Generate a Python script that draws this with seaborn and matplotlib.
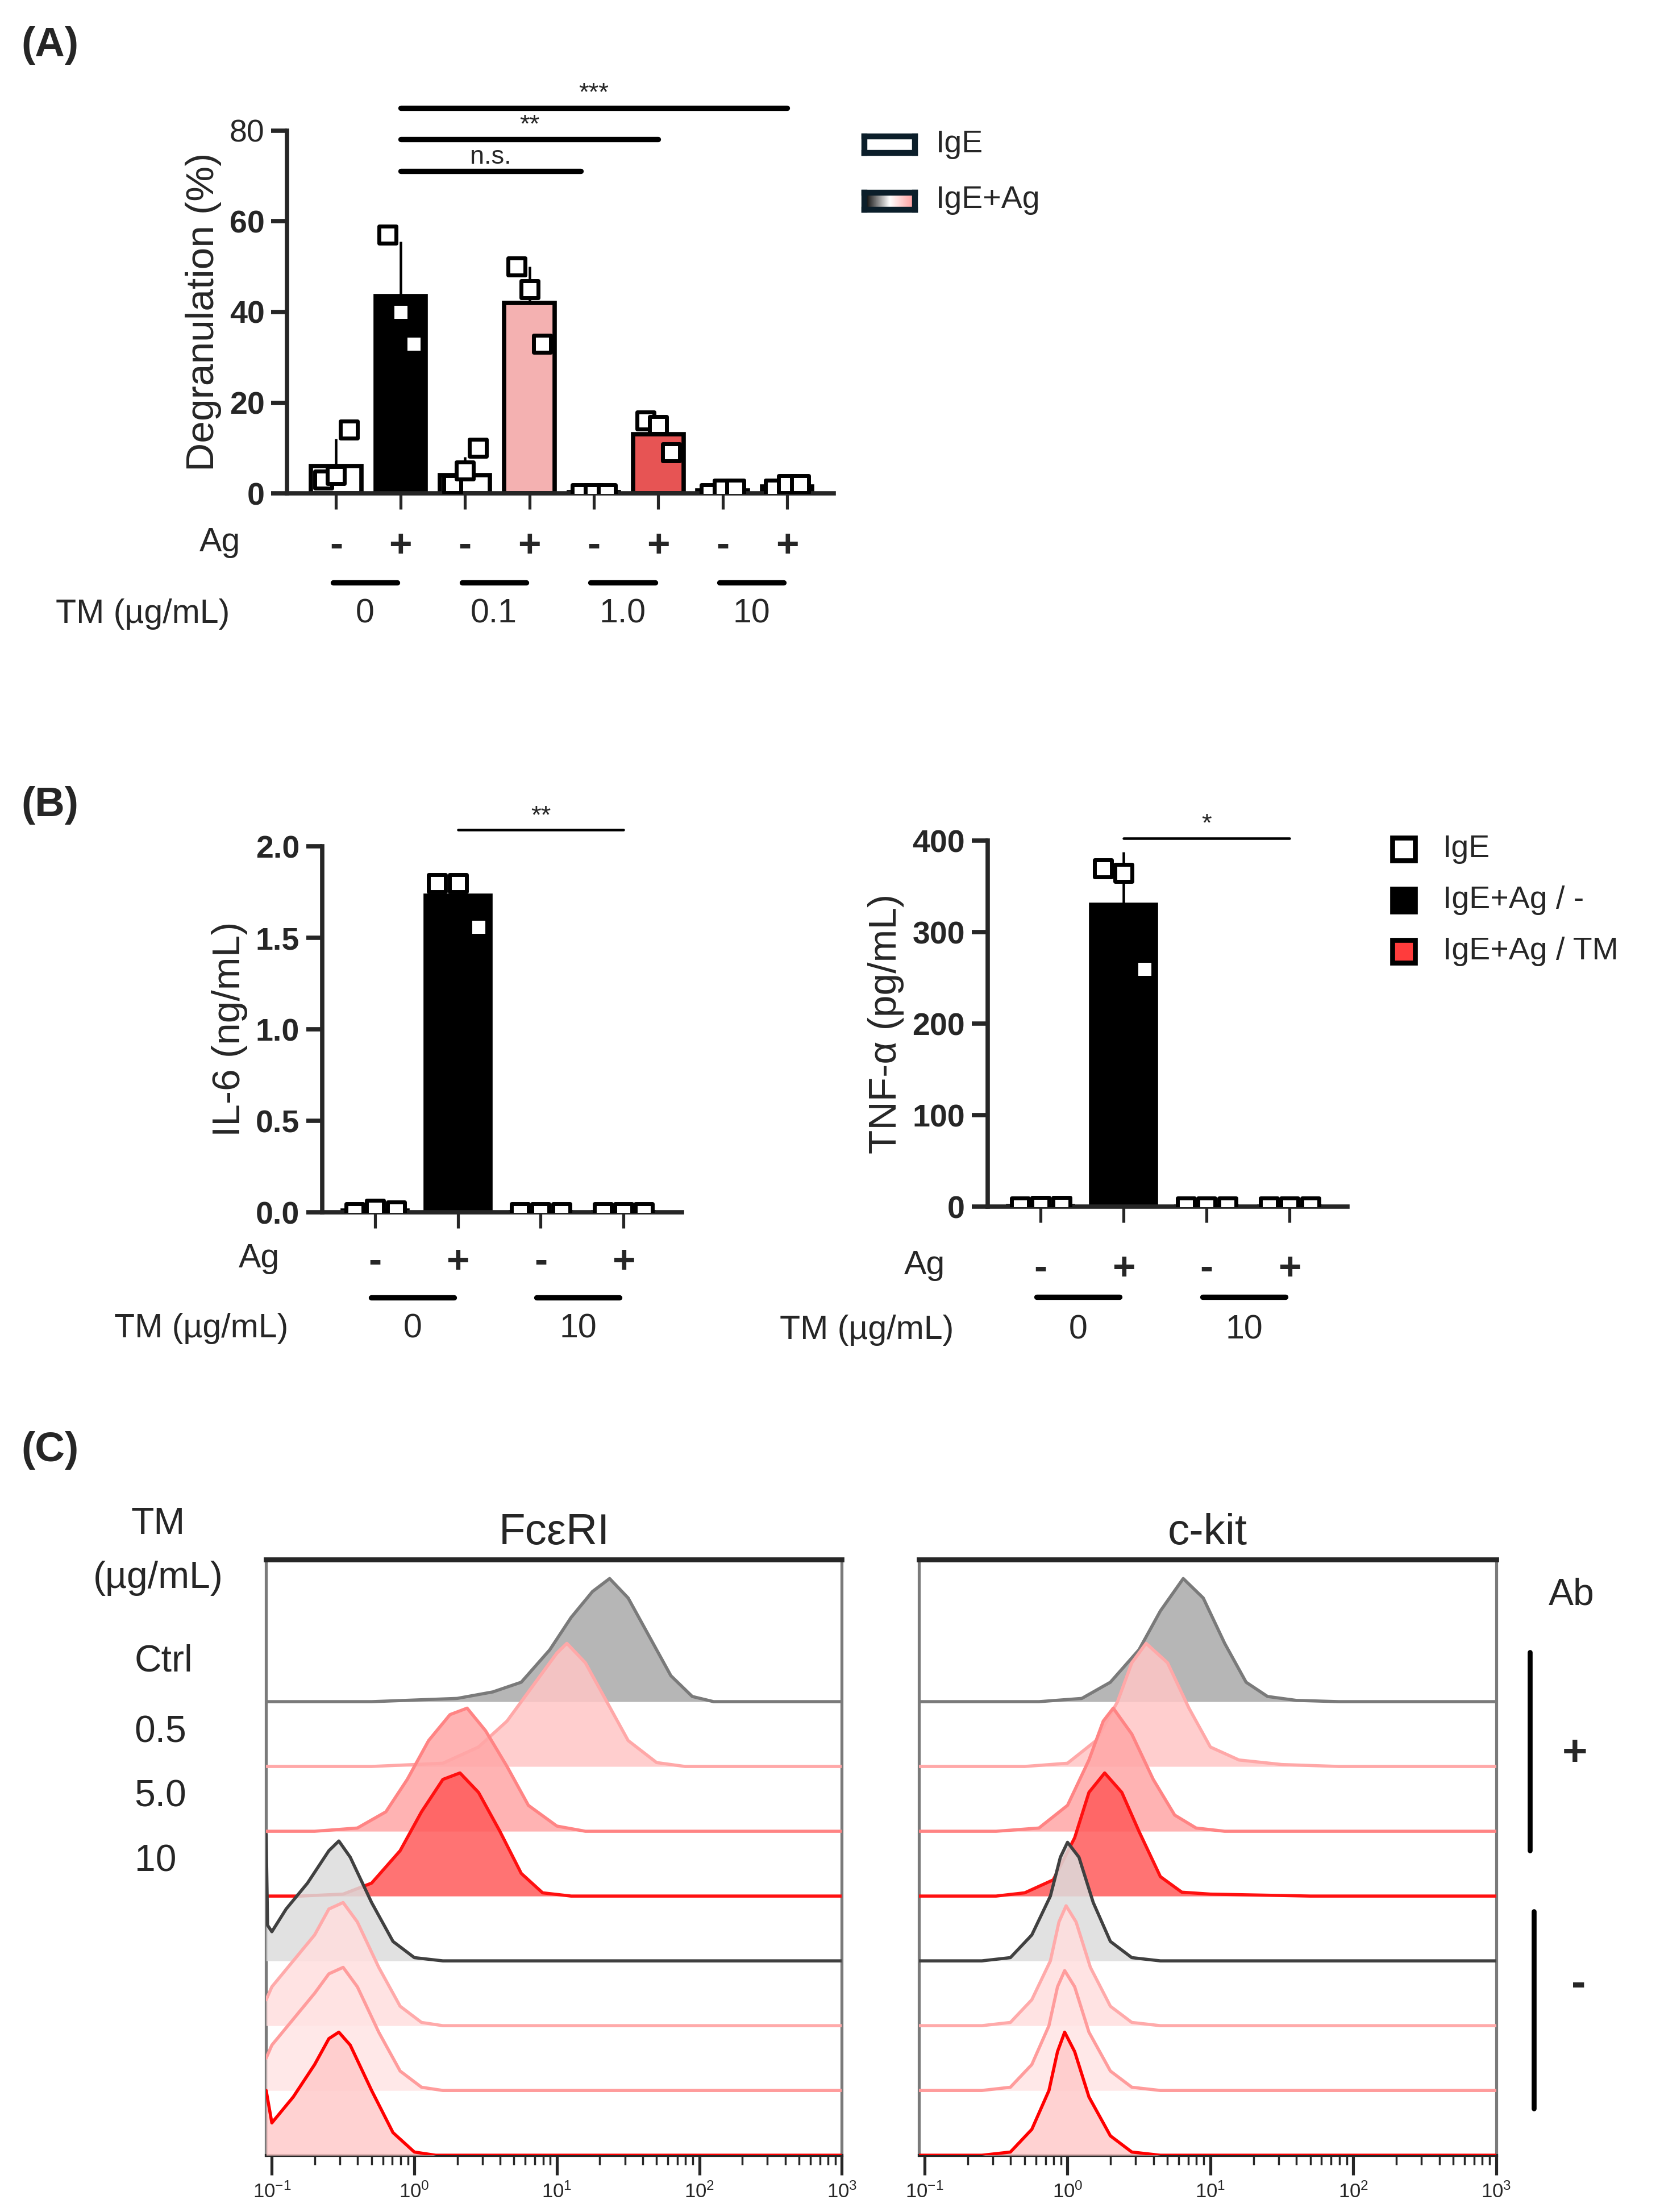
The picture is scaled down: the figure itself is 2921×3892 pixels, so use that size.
import numpy as np
import pandas as pd
import seaborn as sns
import matplotlib.pyplot as plt
import matplotlib.transforms as mtransforms
from matplotlib.colors import LinearSegmentedColormap
from matplotlib.patches import Patch

# ---- panel A data ----
a_groups = ["IgE 0", "IgE+Ag 0", "IgE 0.1", "IgE+Ag 0.1", "IgE 1.0", "IgE+Ag 1.0", "IgE 10", "IgE+Ag 10"]
a_means = [6, 43.5, 4, 42, 0.3, 13, 0.7, 1.5]
a_sd = [6, 12, 4, 8, 0.3, 3, 0.6, 0.6]
a_points = [[3, 4, 14], [57, 40, 33], [2, 5, 10], [50, 45, 33], [0, 0, 0], [16, 15, 9], [0, 1, 1], [1, 2, 2]]
a_colors = ["white", "black", "white", "#ffa6a6", "white", "#ff3c3c", "white", "white"]
ag_signs = ["-", "+", "-", "+", "-", "+", "-", "+"]
a_tm = ["0", "0.1", "1.0", "10"]
a_sig = [(1, 3.8, 71, "n.s."), (1, 5.0, 78, "**"), (1, 7.0, 85, "***")]

# ---- panel B data ----
b_groups = ["IgE", "IgE+Ag / -", "IgE / TM", "IgE+Ag / TM"]
il6_means = [0.01, 1.73, 0.0, 0.0]
il6_sd = [0.01, 0.07, 0.0, 0.0]
il6_points = [[0.0, 0.02, 0.01], [1.8, 1.8, 1.56], [0, 0, 0], [0, 0, 0]]
tnf_means = [1, 330, 0, 0]
tnf_sd = [1, 58, 0, 0]
tnf_points = [[0, 1, 1], [370, 365, 260], [0, 0, 0], [0, 0, 0]]
b_colors = ["white", "black", "white", "white"]
b_tm = ["0", "10"]

# ---- panel C data (log10 intensity, height in track units) ----
c_rows = ["Ctrl +", "0.5 +", "5.0 +", "10 +", "Ctrl -", "0.5 -", "5.0 -", "10 -"]
c_fill = ["#a9a9a9", "#ffc6c6", "#ffa6a6", "#ff5a5a", "#dcdcdc", "#ffdede", "#ffe4e4", "#ffcaca"]
c_line = ["#7a7a7a", "#ffa8a8", "#ff8484", "#ff1010", "#404040", "#ffaaaa", "#ff9c9c", "#ff0000"]
fce_x = [
    [-0.3, 0.3, 0.55, 0.75, 0.95, 1.1, 1.25, 1.37, 1.5, 1.65, 1.8, 1.95, 2.1],
    [-0.3, 0.2, 0.45, 0.65, 0.85, 1.0, 1.07, 1.2, 1.35, 1.5, 1.7, 1.9],
    [-0.7, -0.4, -0.2, -0.05, 0.1, 0.25, 0.37, 0.5, 0.65, 0.8, 1.0, 1.2],
    [-0.8, -0.5, -0.3, -0.1, 0.05, 0.2, 0.32, 0.45, 0.6, 0.75, 0.9, 1.1],
    [-1.04, -1.03, -1.0, -0.9, -0.75, -0.6, -0.53, -0.45, -0.3, -0.15, 0.0, 0.2],
    [-1.04, -1.0, -0.85, -0.7, -0.6, -0.5, -0.4, -0.25, -0.1, 0.05, 0.2],
    [-1.04, -1.0, -0.85, -0.7, -0.6, -0.5, -0.4, -0.25, -0.1, 0.05, 0.2],
    [-1.04, -1.0, -0.85, -0.7, -0.6, -0.53, -0.45, -0.3, -0.15, 0.0, 0.15],
]
fce_y = [
    [0, 0.05, 0.15, 0.3, 0.8, 1.3, 1.7, 1.9, 1.6, 1.0, 0.4, 0.08, 0],
    [0, 0.05, 0.3, 0.7, 1.3, 1.75, 1.9, 1.6, 1.0, 0.4, 0.06, 0],
    [0, 0.05, 0.3, 0.8, 1.4, 1.8, 1.9, 1.55, 1.0, 0.4, 0.08, 0],
    [0, 0.03, 0.2, 0.7, 1.3, 1.8, 1.9, 1.6, 1.0, 0.35, 0.05, 0],
    [1.95, 0.55, 0.45, 0.8, 1.2, 1.7, 1.85, 1.6, 0.9, 0.3, 0.05, 0],
    [0.4, 0.6, 1.0, 1.4, 1.8, 1.9, 1.6, 0.9, 0.3, 0.05, 0],
    [0.5, 0.7, 1.1, 1.5, 1.8, 1.9, 1.6, 0.9, 0.3, 0.05, 0],
    [1.0, 0.5, 0.9, 1.4, 1.8, 1.9, 1.7, 1.0, 0.35, 0.05, 0],
]
kit_x = [
    [-0.2, 0.1, 0.3, 0.5, 0.65, 0.81, 0.95, 1.1, 1.25, 1.4, 1.6, 1.9],
    [-0.3, 0.0, 0.2, 0.35, 0.45, 0.55, 0.7, 0.85, 1.0, 1.2, 1.5, 1.9],
    [-0.5, -0.2, 0.0, 0.15, 0.25, 0.32, 0.45, 0.6, 0.75, 0.9, 1.1],
    [-0.5, -0.3, -0.1, 0.05, 0.15, 0.26, 0.38, 0.5, 0.65, 0.8, 1.0, 1.7],
    [-0.6, -0.4, -0.25, -0.12, -0.05, 0.0, 0.08, 0.18, 0.3, 0.45, 0.65],
    [-0.6, -0.4, -0.25, -0.12, -0.06, -0.01, 0.06, 0.16, 0.3, 0.45, 0.65],
    [-0.6, -0.4, -0.25, -0.13, -0.07, -0.02, 0.05, 0.15, 0.3, 0.45, 0.65],
    [-0.6, -0.4, -0.25, -0.13, -0.07, -0.02, 0.05, 0.15, 0.3, 0.45, 0.65],
]
kit_y = [
    [0, 0.05, 0.3, 0.8, 1.4, 1.9, 1.6, 0.9, 0.3, 0.08, 0.02, 0],
    [0, 0.05, 0.4, 1.0, 1.6, 1.9, 1.6, 0.9, 0.3, 0.1, 0.03, 0],
    [0, 0.05, 0.4, 1.1, 1.7, 1.9, 1.5, 0.8, 0.25, 0.05, 0],
    [0, 0.05, 0.25, 0.9, 1.6, 1.9, 1.6, 1.0, 0.3, 0.06, 0.03, 0],
    [0, 0.05, 0.4, 1.0, 1.6, 1.83, 1.6, 0.9, 0.3, 0.05, 0],
    [0, 0.05, 0.4, 1.0, 1.6, 1.85, 1.6, 0.9, 0.3, 0.05, 0],
    [0, 0.05, 0.4, 1.0, 1.6, 1.85, 1.6, 0.9, 0.3, 0.05, 0],
    [0, 0.05, 0.4, 1.0, 1.6, 1.9, 1.6, 0.9, 0.3, 0.05, 0],
]
c_left_labels = ["Ctrl", "0.5", "5.0", "10"]

sns.set_style("ticks")
plt.rcParams["font.family"] = ["Liberation Sans", "DejaVu Sans"]
LW = 2.2

fig = plt.figure(figsize=(11.684, 15.568), dpi=250)
W, H = 1185.0, 1560.0


def fx(x):
    return x / W


def fy(y):
    return 1 - y / H


def bar_panel(ax, means, sd, points, colors, offsets):
    n = len(means)
    sns.barplot(x=list(range(n)), y=means, hue=list(range(n)), palette=colors,
                legend=False, ax=ax, width=0.78, errorbar=None)
    for p in ax.patches:
        p.set_edgecolor("black")
        p.set_linewidth(LW)
    for i in range(n):
        ax.errorbar(i, means[i], yerr=[[0], [sd[i]]], color="black", lw=1.3, capsize=0, zorder=3)
        ax.scatter(np.array(offsets) + i, points[i], marker="s", s=70, facecolor="white",
                   edgecolor="black", linewidth=2, zorder=4)
    sns.despine(ax=ax)
    ax.spines["left"].set_linewidth(LW)
    ax.spines["bottom"].set_linewidth(LW)
    ax.set_xticks(range(n))
    ax.set_xticklabels([])
    ax.tick_params(axis="x", length=8, width=1.5)
    ax.tick_params(axis="y", length=8, width=LW, labelsize=16)
    for t in ax.get_yticklabels():
        t.set_fontweight("bold")


def row_labels(ax, signs, tms, y_ag, y_line, y_tm, x_ag, x_tm):
    tr = mtransforms.blended_transform_factory(ax.transData, ax.transAxes)
    for i, s in enumerate(signs):
        ax.text(i, y_ag, s, transform=tr, ha="center", va="center", fontsize=20, fontweight="bold")
    for j, t in enumerate(tms):
        ax.plot([2 * j - 0.05, 2 * j + 0.95], [y_line, y_line], transform=tr, color="black",
                lw=LW + 0.5, clip_on=False)
        ax.text(2 * j + 0.45, y_tm, t, transform=tr, ha="center", va="center", fontsize=17)
    ax.text(x_ag, y_ag + 0.01, "Ag", transform=tr, ha="center", va="center", fontsize=17)
    ax.text(x_tm, y_tm, "TM (µg/mL)", transform=tr, ha="center", va="center", fontsize=17)


# ================= (A) =================
axA = fig.add_axes([fx(205), fy(348), fx(390), 256 / H])
bar_panel(axA, a_means, a_sd, a_points, a_colors, [-0.2, 0.0, 0.2])
axA.set_xlim(-0.76, 7.72)
axA.set_ylim(0, 80)
axA.set_yticks([0, 20, 40, 60, 80])
axA.set_ylabel("Degranulation (%)", fontsize=20)
for x0, x1, y, s in a_sig:
    axA.plot([x0, x1], [y, y], color="black", lw=LW + 0.5, clip_on=False)
    axA.text((x0 + x1) / 2, y + 0.5, s, ha="center", va="bottom", fontsize=13)
row_labels(axA, ag_signs, a_tm, -0.145, -0.246, -0.332, -1.8, -3.0)
fig.text(fx(15), fy(32), "(A)", fontsize=21, fontweight="bold", va="center")

# legend A
lgA1 = fig.add_axes([fx(617), fy(108), fx(36), 12 / H])
lgA1.set_xticks([]); lgA1.set_yticks([])
for s in lgA1.spines.values():
    s.set_linewidth(3); s.set_color("#0b1e2a")
lgA2 = fig.add_axes([fx(617), fy(148), fx(36), 12 / H])
cmap = LinearSegmentedColormap.from_list("grad", ["black", "#ffffff", "#ff9a9a"])
lgA2.imshow(np.linspace(0, 1, 100).reshape(1, -1), aspect="auto", cmap=cmap)
lgA2.set_xticks([]); lgA2.set_yticks([])
for s in lgA2.spines.values():
    s.set_linewidth(3); s.set_color("#0b1e2a")
fig.text(fx(668), fy(102), "IgE", fontsize=16, va="center")
fig.text(fx(668), fy(141), "IgE+Ag", fontsize=16, va="center")

# ================= (B) =================
axB1 = fig.add_axes([fx(230), fy(855), fx(257), 258 / H])
bar_panel(axB1, il6_means, il6_sd, il6_points, b_colors, [-0.25, 0.0, 0.25])
axB1.set_xlim(-0.64, 3.71)
axB1.set_ylim(0, 2.0)
axB1.set_yticks([0, 0.5, 1.0, 1.5, 2.0])
axB1.set_yticklabels(["0.0", "0.5", "1.0", "1.5", "2.0"], fontweight="bold")
axB1.set_ylabel("IL-6 (ng/mL)", fontsize=20)
axB1.plot([1, 3], [2.09, 2.09], color="black", lw=1.3, clip_on=False)
axB1.text(2, 2.1, "**", ha="center", va="bottom", fontsize=13)
row_labels(axB1, ag_signs[:4], b_tm, -0.136, -0.233, -0.318, -1.4, -2.1)

axB2 = fig.add_axes([fx(705), fy(851), fx(257), 258 / H])
bar_panel(axB2, tnf_means, tnf_sd, tnf_points, b_colors, [-0.25, 0.0, 0.25])
axB2.set_xlim(-0.64, 3.7)
axB2.set_ylim(0, 400)
axB2.set_yticks([0, 100, 200, 300, 400])
axB2.set_ylabel("TNF-α (pg/mL)", fontsize=20)
axB2.plot([1, 3], [403, 403], color="black", lw=1.3, clip_on=False)
axB2.text(2, 405, "*", ha="center", va="bottom", fontsize=13)
row_labels(axB2, ag_signs[:4], b_tm, -0.17, -0.247, -0.337, -1.4, -2.1)
fig.text(fx(15), fy(568), "(B)", fontsize=21, fontweight="bold", va="center")

for k, (lab, col) in enumerate(zip(["IgE", "IgE+Ag / -", "IgE+Ag / TM"], ["white", "black", "#ff3c3c"])):
    yk = 599 + 36 * k
    fig.patches.append(plt.Rectangle((fx(994), fy(yk + 8)), fx(16), 16 / H, transform=fig.transFigure,
                                     facecolor=col, edgecolor="black", lw=2.5))
    fig.text(fx(1030), fy(yk), lab, fontsize=16, va="center")

# ================= (C) =================
def hist_panel(ax, xs, ys, title):
    n = len(xs)
    lo, hi = -1.04, 3.0
    for k in range(n):
        base = n - 1 - k
        x = np.array([lo] + xs[k] + [hi])
        y = np.array([ys[k][0]] + ys[k] + [0]) + base
        xv = 10 ** x
        ax.fill_between(xv, base, y, color=c_fill[k], alpha=0.85, lw=0, zorder=2 + k)
        ax.plot(xv, y, color=c_line[k], lw=1.6, zorder=2 + k)
    ax.set_xscale("log")
    ax.set_xlim(10 ** lo, 1e3)
    ax.set_ylim(0, n + 1.19)
    ax.set_yticks([])
    ax.set_xticks([0.1, 1, 10, 100, 1000])
    ax.tick_params(axis="x", which="major", length=10, width=1.5, labelsize=10)
    ax.tick_params(axis="x", which="minor", length=5, width=1)
    ax.spines["top"].set_linewidth(2.5)
    for s in ["left", "right"]:
        ax.spines[s].set_color("#7a7a7a")
        ax.spines[s].set_linewidth(1.5)
    ax.spines["bottom"].set_linewidth(1.5)
    ax.set_title(title, fontsize=22, pad=8)


axC1 = fig.add_axes([fx(190), fy(1520), fx(411), 420 / H])
hist_panel(axC1, fce_x, fce_y, "FcεRI")
axC2 = fig.add_axes([fx(656), fy(1520), fx(412), 420 / H])
hist_panel(axC2, kit_x, kit_y, "c-kit")

fig.text(fx(15), fy(1023), "(C)", fontsize=21, fontweight="bold", va="center")
fig.text(fx(113), fy(1075), "TM", fontsize=19, ha="center", va="center")
fig.text(fx(113), fy(1113), "(µg/mL)", fontsize=19, ha="center", va="center")
for lab, yy in zip(c_left_labels, [1172, 1222, 1267, 1313]):
    fig.text(fx(96), fy(yy), lab, fontsize=19, va="center")
fig.text(fx(1122), fy(1125), "Ab", fontsize=19, ha="center", va="center")
fig.add_artist(plt.Line2D([fx(1092), fx(1092)], [fy(1165), fy(1305)], color="black", lw=2.5))
fig.add_artist(plt.Line2D([fx(1095), fx(1095)], [fy(1348), fy(1487)], color="black", lw=2.5))
fig.text(fx(1124), fy(1237), "+", fontsize=22, fontweight="bold", ha="center", va="center")
fig.text(fx(1127), fy(1400), "-", fontsize=22, fontweight="bold", ha="center", va="center")

fig.savefig("out.png", dpi=250)
